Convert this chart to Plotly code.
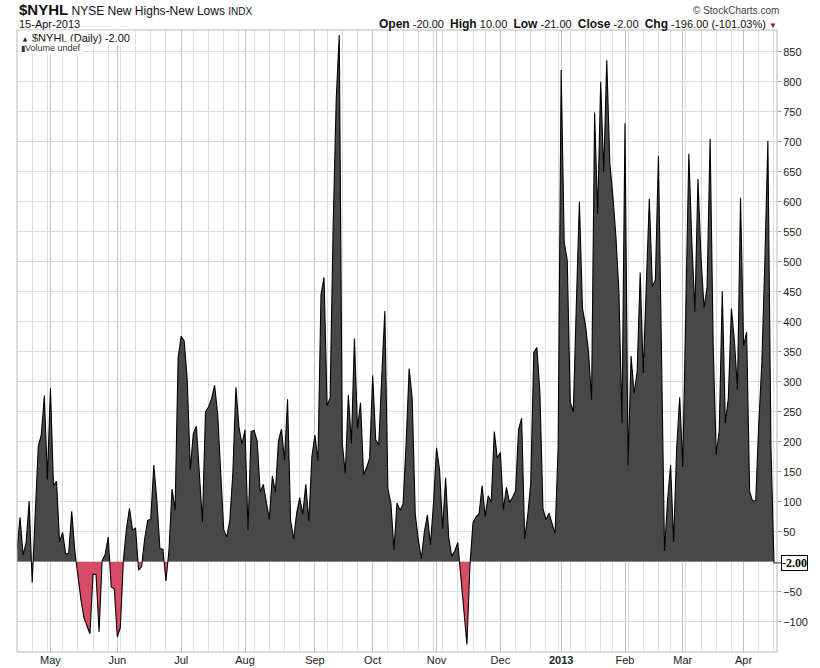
import pandas as pd
import plotly.graph_objects as go

# ── Data ──────────────────────────────────────────────────────────────────────

HOLIDAYS = ["2012-05-28", "2012-07-04", "2012-09-03", "2012-10-29", "2012-10-30",
            "2012-11-22", "2012-12-25", "2013-01-01", "2013-01-21", "2013-02-18",
            "2013-03-29"]
dates = [d for d in pd.bdate_range("2012-04-16", "2013-04-15")
         if d.strftime("%Y-%m-%d") not in HOLIDAYS]

# daily NYSE new highs minus new lows
nyhl = [
    19, 74, 11, 32, 101, -35, 80, 192, 212, 277,
    137, 289, 127, 134, 33, 49, 13, 14, 84, 19,
    -25, -62, -93, -106, -120, -21, -21, -117, 2, 12,
    41, -42, -45, -125, -110, 3, 55, 89, 53, 56,
    -14, -8, 38, 69, 71, 161, 103, 22, 21, -32,
    20, 121, 86, 340, 376, 368, 303, 154, 214, 226,
    136, 66, 250, 258, 272, 294, 247, 147, 53, 41,
    69, 147, 291, 225, 196, 220, 53, 217, 219, 201,
    116, 129, 97, 71, 143, 116, 201, 221, 169, 271,
    68, 38, 81, 107, 79, 129, 67, 175, 211, 168,
    445, 474, 260, 273, 560, 770, 878, 197, 147, 278,
    197, 372, 222, 265, 145, 157, 173, 311, 203, 195,
    310, 418, 122, 97, 20, 98, 86, 96, 197, 322,
    272, 79, 37, 5, 50, 78, 28, 97, 190, 153,
    55, 140, 41, 9, 18, 32, -25, -80, -138, -5,
    65, 75, 80, 127, 75, 110, 99, 217, 173, 182,
    87, 124, 99, 107, 118, 221, 239, 38, 77, 131,
    349, 357, 283, 89, 70, 81, 63, 47, 190, 820,
    533, 502, 266, 250, 430, 600, 423, 394, 350, 270,
    749, 580, 800, 649, 836, 665, 610, 543, 450, 231,
    731, 160, 343, 280, 317, 482, 315, 460, 605, 458,
    470, 677, 350, 18, 103, 161, 33, 190, 274, 158,
    420, 680, 531, 417, 638, 507, 423, 458, 705, 363,
    179, 218, 451, 231, 273, 422, 367, 287, 607, 360,
    383, 117, 101, 102, 230, 330, 500, 702, 194, -2,
]

pos_ticks = list(range(50, 851, 50))
neg_ticks = [-100, -50]
MONTH_NAMES = {1: "<b>2013</b>", 2: "Feb", 3: "Mar", 4: "Apr", 5: "May", 6: "Jun",
               7: "Jul", 8: "Aug", 9: "Sep", 10: "Oct", 11: "Nov", 12: "Dec"}

# ── Derived tick positions (trading-day index) ────────────────────────────────

idx = list(range(len(dates)))
month_starts = [i for i in idx if i > 0 and dates[i].month != dates[i - 1].month]
week_starts = [i for i in idx if i == 0 or dates[i].isocalendar()[1] != dates[i - 1].isocalendar()[1]]
month_text = [MONTH_NAMES[dates[i].month] for i in month_starts]

# ── Layout geometry ───────────────────────────────────────────────────────────

W, H = 820, 668
L, R, T, B = 17, 43, 30, 16
Y_MIN, Y_MAX = -150.5, 886.5
X_RANGE = [0, 250]
GRAY = "#484848"
RED = "#d64d66"
FONT = "Liberation Sans, Arial, sans-serif"


def px_x(x):
    return (x - L) / (W - L - R)


def px_y(y):
    return (H - B - y) / (H - T - B)


# the panel is split at zero: upper half clips the grey fill, lower half the red one
split = -Y_MIN / (Y_MAX - Y_MIN)

fig = go.Figure()
fig.add_trace(go.Scatter(
    x=idx, y=nyhl, xaxis="x2", yaxis="y", mode="lines", fill="tozeroy",
    fillcolor=GRAY, line=dict(color="black", width=1.1),
    hoverinfo="skip", showlegend=False,
))
fig.add_trace(go.Scatter(
    x=idx, y=nyhl, xaxis="x", yaxis="y2", mode="lines", fill="tozeroy",
    fillcolor=RED, line=dict(color="black", width=1.1),
    hoverinfo="skip", showlegend=False,
))

x_common = dict(
    range=X_RANGE, tickvals=month_starts, ticktext=month_text,
    showgrid=True, gridcolor="#c4c4c4", gridwidth=1,
    minor=dict(tickvals=week_starts, showgrid=True, gridcolor="#dedede"),
    ticks="", showline=False, zeroline=False, automargin=False,
)
y_common = dict(
    side="right", showgrid=True, gridcolor="#dcdcdc", zeroline=False,
    ticks="outside", ticklen=3, tickcolor="#999", showline=False,
    tickfont=dict(size=11, color="#222"), automargin=False,
)

fig.update_layout(
    width=W, height=H,
    margin=dict(l=L, r=R, t=T, b=B),
    paper_bgcolor="white", plot_bgcolor="white",
    font=dict(family=FONT, size=11, color="#222"),
    xaxis=dict(domain=[0, 1], anchor="y2", tickfont=dict(size=11, color="#222"), **x_common),
    xaxis2=dict(domain=[0, 1], anchor="y", matches="x", showticklabels=False, **x_common),
    yaxis=dict(domain=[split, 1], anchor="x2", range=[0, Y_MAX], tickvals=pos_ticks, **y_common),
    yaxis2=dict(domain=[0, split], anchor="x", range=[Y_MIN, 0], tickvals=neg_ticks, **y_common),
    shapes=[dict(type="rect", xref="paper", yref="paper", x0=0, x1=1, y0=0, y1=1,
                 line=dict(color="#b8b8b8", width=1), layer="above")],
)

anns = [
    dict(x=px_x(17), y=px_y(9),
         text="<b style='font-size:15px'>$NYHL</b> NYSE New Highs-New Lows "
              "<span style='font-size:10px'>INDX</span>",
         font=dict(size=12, color="#111")),
    dict(x=px_x(17), y=px_y(24), text="15-Apr-2013", font=dict(size=11, color="#111")),
    dict(x=px_x(779), y=px_y(24), xanchor="right",
         text="<b style='font-size:12px'>Open</b> -20.00  <b style='font-size:12px'>High</b> 10.00  "
              "<b style='font-size:12px'>Low</b> -21.00  <b style='font-size:12px'>Close</b> -2.00  "
              "<b style='font-size:12px'>Chg</b> -196.00 (-101.03%) "
              "<span style='color:#9b0a3a;font-size:8px'>▼</span>",
         font=dict(size=11, color="#111")),
    dict(x=px_x(781), y=px_y(10), xanchor="right", text="© StockCharts.com",
         font=dict(size=10, color="#444")),
    dict(x=px_x(19), y=px_y(38), bgcolor="white",
         text="<span style='font-size:8px'>▲</span> $NYHL (Daily) -2.00",
         font=dict(size=11, color="#111")),
    dict(x=px_x(19), y=px_y(48), bgcolor="white",
         text="<span style='font-size:8px'>▮</span>Volume undef",
         font=dict(size=9, color="#333")),
]
for a in anns:
    a.setdefault("xanchor", "left")
    fig.add_annotation(xref="paper", yref="paper", showarrow=False, yanchor="middle", **a)

# last value tag on the right axis
fig.add_annotation(
    x=idx[-1], y=nyhl[-1], xref="x", yref="y2",
    text="<b>%.2f</b>" % nyhl[-1], font=dict(size=12, color="black", family="Liberation Serif, serif"),
    showarrow=True, ax=21, ay=0, arrowhead=0, arrowwidth=1, arrowcolor="#333",
    bordercolor="black", borderwidth=1, borderpad=0, bgcolor="white",
)

# drop the default page margin so the figure sits at the window's corner
fig.write_html("out.html", config={"displayModeBar": False},
               post_script="document.body.style.margin='0';")
